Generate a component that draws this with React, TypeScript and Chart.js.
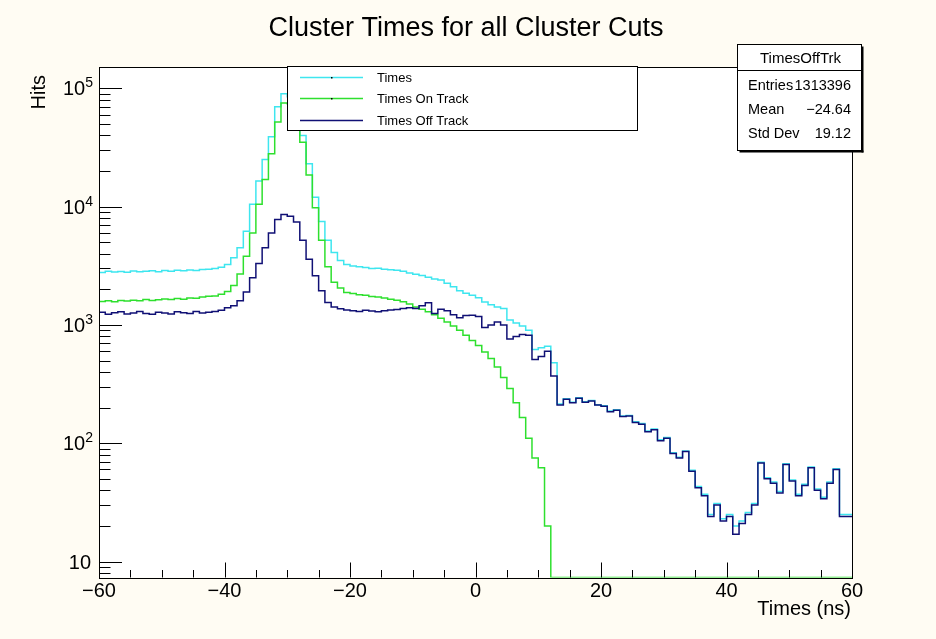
import React, { useEffect, useRef } from 'react';
import { Chart, registerables } from 'chart.js';

Chart.register(...registerables);

// ---------- data (1 ns bins from -60 ns to 60 ns) ----------
const TITLE = 'Cluster Times for all Cluster Cuts';
const X_TITLE = 'Times (ns)';
const Y_TITLE = 'Hits';
const X_MIN = -60;
const X_MAX = 60;
const BIN_WIDTH = 1;
const Y_MIN = 7.33;
const Y_MAX = 151500;

const SERIES_NAMES = ['Times', 'Times On Track', 'Times Off Track'];

const TIMES = [
  2820, 2780, 2850, 2800, 2830, 2790, 2860, 2810, 2840, 2870,
  2820, 2880, 2850, 2900, 2870, 2910, 2890, 2940, 2960, 3000,
  3080, 3250,
  3700, 4500, 6200, 10500, 16500, 25000, 39000, 70000, 90000, 85000,
  65000, 40000, 23000, 12000, 7500, 5200, 4100, 3500, 3250,
  3150, 3100, 3060, 3000, 3020, 2960, 2930, 2900, 2850, 2750,
  2680, 2620, 2530, 2450, 2400, 2250, 2100, 1950, 1850,
  1780, 1700, 1560, 1480, 1420, 1380, 1100, 1040, 980, 900,
  620, 640, 660, 480, 215, 238, 222, 242, 224, 230,
  212, 207, 187, 192, 170, 172, 152, 147, 127, 132,
  107, 112, 83, 76, 86, 59, 43, 37, 25, 31,
  23, 25, 20, 22, 26, 31, 69, 51, 47, 39,
  67, 49, 37, 45, 63, 41, 35, 47, 61, 25,
];

const ON_TRACK = [
  1560, 1580, 1600, 1570, 1610, 1590, 1620, 1600, 1640, 1610,
  1630, 1660, 1640, 1670, 1650, 1690, 1680, 1720, 1750, 1760,
  1820, 1920,
  2150, 2700, 3800, 6000, 10500, 17000, 28000, 52000, 75000, 74000,
  56000, 35000, 18500, 9800, 5200, 3100, 2300, 2050, 1880,
  1840, 1800, 1780, 1740, 1720, 1690, 1650, 1620, 1570, 1500,
  1420, 1360, 1290, 1220, 1140, 1060, 980, 900, 820,
  740, 670, 590, 520, 440, 360, 290, 220, 165, 110,
  75, 62, 20, 0, 0, 0, 0, 0, 0, 0,
  0, 0, 0, 0, 0, 0, 0, 0, 0, 0,
  0, 0, 0, 0, 0, 0, 0, 0, 0, 0,
  0, 0, 0, 0, 0, 0, 0, 0, 0, 0,
  0, 0, 0, 0, 0, 0, 0, 0, 0, 0,
];

const OFF_TRACK = [
  1250, 1280, 1230, 1270, 1290, 1240, 1260, 1300, 1250, 1230,
  1280, 1260, 1240, 1290, 1270, 1250, 1300, 1260, 1280, 1300,
  1330, 1400,
  1450, 1600, 1900, 2500, 3300, 4500, 6000, 7800, 8600, 8300,
  7400, 5200, 3600, 2600, 1950, 1550, 1420, 1370, 1340,
  1320, 1300, 1330, 1310, 1290, 1320, 1340, 1350, 1380, 1400,
  1380, 1450, 1540, 1250, 1360, 1320, 1220, 1150, 1200,
  1210, 1180, 950, 1000, 1060, 1000, 760, 800, 830, 820,
  510, 540, 600, 370, 210, 235, 220, 240, 222, 228,
  210, 205, 185, 190, 168, 170, 150, 145, 125, 130,
  105, 110, 82, 75, 85, 58, 42, 36, 24, 30,
  22, 24, 17, 21, 25, 30, 68, 50, 46, 38,
  66, 48, 36, 44, 62, 40, 34, 46, 60, 24,
];

const X_MAJOR_TICKS = [-60, -40, -20, 0, 20, 40, 60];
const X_TICK_LABELS = ['\u221260', '\u221240', '\u221220', '0', '20', '40', '60'];
const Y_MAJOR_TICKS = [10, 100, 1000, 10000, 100000];
const Y_TICK_EXPONENTS = ['', '2', '3', '4', '5'];

const STATS_TITLE = 'TimesOffTrk';
const STATS_LABELS = ['Entries', 'Mean', 'Std Dev'];
const STATS_VALUES = ['1313396', '\u221224.64', '19.12'];

const COLORS = ['#3ee6ef', '#2ee02e', '#101075'];

// ---------- helpers ----------
const FONT = '"Liberation Sans", Arial, Helvetica, sans-serif';

function toSteps(values: number[]) {
  const pts = values.map((v, i) => ({ x: X_MIN + i * BIN_WIDTH, y: v > 0 ? v : Y_MIN }));
  const last = values[values.length - 1];
  pts.push({ x: X_MAX, y: last > 0 ? last : Y_MIN });
  return pts;
}

const rootPlugin = {
  id: 'rootStyle',
  beforeDraw(chart: any) {
    const { ctx, chartArea: a, width, height } = chart;
    ctx.save();
    ctx.fillStyle = '#fffcf3';
    ctx.fillRect(0, 0, width, height);
    ctx.fillStyle = '#ffffff';
    ctx.fillRect(a.left, a.top, a.right - a.left, a.bottom - a.top);
    ctx.restore();
  },
  afterDatasetsDraw(chart: any) {
    const { ctx, chartArea: a } = chart;
    const xs = chart.scales.x;
    const ys = chart.scales.y;
    ctx.save();

    // frame
    ctx.strokeStyle = '#000';
    ctx.lineWidth = 1;
    ctx.strokeRect(Math.round(a.left) + 0.5, Math.round(a.top) + 0.5,
      Math.round(a.right - a.left), Math.round(a.bottom - a.top));

    // x ticks
    ctx.beginPath();
    for (let v = X_MIN; v <= X_MAX; v += 5) {
      const px = Math.round(xs.getPixelForValue(v)) + 0.5;
      const major = X_MAJOR_TICKS.includes(v);
      const len = major ? 15 : 7.5;
      ctx.moveTo(px, a.bottom);
      ctx.lineTo(px, a.bottom - len);
    }
    ctx.stroke();

    // y ticks (log)
    ctx.beginPath();
    for (let e = 0; e <= 5; e++) {
      for (let m = 1; m <= 9; m++) {
        const v = m * Math.pow(10, e);
        if (v < Y_MIN || v > Y_MAX) continue;
        const py = Math.round(ys.getPixelForValue(v)) + 0.5;
        const len = m === 1 ? 23 : 11.5;
        ctx.moveTo(a.left, py);
        ctx.lineTo(a.left + len, py);
      }
    }
    ctx.stroke();

    ctx.fillStyle = '#000';
    // x tick labels
    ctx.font = `20px ${FONT}`;
    ctx.textAlign = 'center';
    ctx.textBaseline = 'alphabetic';
    X_MAJOR_TICKS.forEach((v, i) => {
      ctx.fillText(X_TICK_LABELS[i], xs.getPixelForValue(v), 597);
    });

    // y tick labels
    Y_MAJOR_TICKS.forEach((v, i) => {
      const py = ys.getPixelForValue(v);
      const exp = Y_TICK_EXPONENTS[i];
      if (exp) {
        ctx.font = `14px ${FONT}`;
        ctx.textAlign = 'right';
        ctx.fillText(exp, 93, py - 1);
        const ew = ctx.measureText(exp).width;
        ctx.font = `20px ${FONT}`;
        ctx.fillText('10', 93 - ew, py + 7);
      } else {
        ctx.font = `20px ${FONT}`;
        ctx.textAlign = 'right';
        ctx.fillText('10', 91, py + 7);
      }
    });

    // axis titles
    ctx.font = `20px ${FONT}`;
    ctx.textAlign = 'right';
    ctx.fillText(X_TITLE, 851, 615);
    ctx.save();
    ctx.translate(45, 75);
    ctx.rotate(-Math.PI / 2);
    ctx.font = `20px ${FONT}`;
    ctx.textAlign = 'right';
    ctx.fillText(Y_TITLE, 0, 0);
    ctx.restore();

    // title
    ctx.font = `27px ${FONT}`;
    ctx.textAlign = 'center';
    ctx.fillText(TITLE, 466, 36);

    // legend box
    const lx = 287.5, ly = 66.5, lw = 350, lh = 64;
    ctx.fillStyle = '#fff';
    ctx.fillRect(lx, ly, lw, lh);
    ctx.strokeStyle = '#000';
    ctx.strokeRect(lx, ly, lw, lh);
    const rows = [77, 98, 120];
    SERIES_NAMES.forEach((name, i) => {
      ctx.strokeStyle = COLORS[i];
      ctx.lineWidth = 1.5;
      ctx.beginPath();
      ctx.moveTo(300, rows[i] + 0.5);
      ctx.lineTo(363, rows[i] + 0.5);
      ctx.stroke();
      if (i < 2) {
        ctx.fillStyle = '#000';
        ctx.fillRect(331, rows[i], 1.5, 1.5);
      }
      ctx.fillStyle = '#000';
      ctx.font = `13px ${FONT}`;
      ctx.textAlign = 'left';
      ctx.fillText(name, 377, rows[i] + 5);
    });

    // stats box
    const sx = 737.5, sy = 44.5, sw = 124, sh = 106;
    ctx.fillStyle = '#000';
    ctx.fillRect(sx + 2, sy + sh, sw, 2);
    ctx.fillRect(sx + sw, sy + 2, 2, sh);
    ctx.fillStyle = '#fff';
    ctx.fillRect(sx, sy, sw, sh);
    ctx.strokeStyle = '#000';
    ctx.lineWidth = 1;
    ctx.strokeRect(sx, sy, sw, sh);
    ctx.beginPath();
    ctx.moveTo(sx, 70.5);
    ctx.lineTo(sx + sw, 70.5);
    ctx.stroke();
    ctx.fillStyle = '#000';
    ctx.font = `15px ${FONT}`;
    ctx.textAlign = 'center';
    ctx.fillText(STATS_TITLE, sx + sw / 2 + 1, 63);
    ctx.font = `14.5px ${FONT}`;
    const srows = [90, 114, 138];
    STATS_LABELS.forEach((lab, i) => {
      ctx.textAlign = 'left';
      ctx.fillText(lab, 748, srows[i]);
      ctx.textAlign = 'right';
      ctx.fillText(STATS_VALUES[i], 851, srows[i]);
    });

    ctx.restore();
  },
};

export default function App() {
  const ref = useRef<HTMLCanvasElement>(null);
  useEffect(() => {
    document.body.style.margin = '0';
    const canvas = ref.current!;
    const chart = new Chart(canvas, {
      type: 'line',
      data: {
        datasets: [
          { label: SERIES_NAMES[0], data: toSteps(TIMES), borderColor: COLORS[0], order: 2 },
          { label: SERIES_NAMES[1], data: toSteps(ON_TRACK), borderColor: COLORS[1], order: 1 },
          { label: SERIES_NAMES[2], data: toSteps(OFF_TRACK), borderColor: COLORS[2], order: 0 },
        ].map((d) => ({
          ...d,
          stepped: 'after' as const,
          borderWidth: 1.5,
          pointRadius: 0,
          fill: false,
          tension: 0,
        })),
      },
      options: {
        responsive: false,
        devicePixelRatio: 1,
        animation: false,
        layout: { padding: { left: 99, right: 84, top: 67, bottom: 61.5 } },
        plugins: { legend: { display: false }, tooltip: { enabled: false }, title: { display: false } },
        scales: {
          x: { type: 'linear', min: X_MIN, max: X_MAX, display: false },
          y: { type: 'logarithmic', min: Y_MIN, max: Y_MAX, display: false },
        },
      },
      plugins: [rootPlugin],
    });
    return () => chart.destroy();
  }, []);
  return (
    <div style={{ width: 936, height: 639 }}>
      <canvas ref={ref} width={936} height={639} style={{ display: 'block' }} />
    </div>
  );
}
